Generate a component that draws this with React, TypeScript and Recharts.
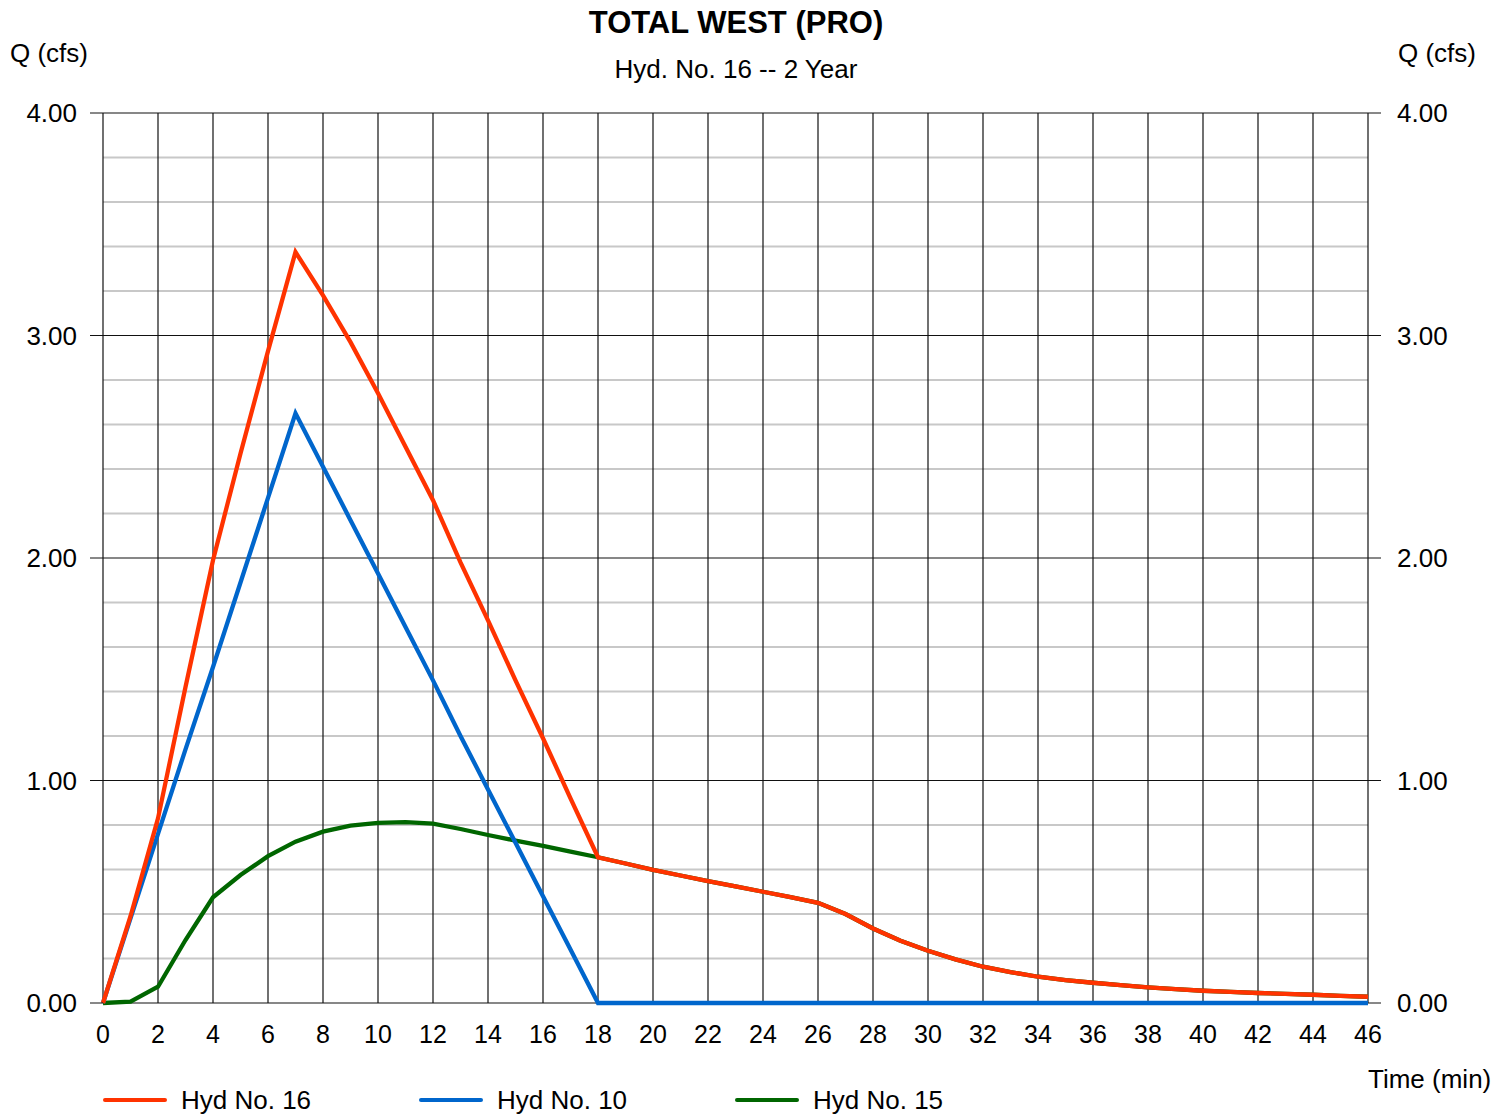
import { LineChart, Line, XAxis, YAxis, CartesianGrid } from "recharts";

// time (min), one point per minute
const minutes = [
  0, 1, 2, 3, 4, 5, 6, 7, 8, 9, 10, 11, 12, 13, 14, 15, 16, 17, 18, 19, 20, 21, 22, 23,
  24, 25, 26, 27, 28, 29, 30, 31, 32, 33, 34, 35, 36, 37, 38, 39, 40, 41, 42, 43, 44, 45, 46
];

// Q (cfs)
const hyd16 = [
  0, 0.39, 0.83, 1.42, 1.99, 2.47, 2.93, 3.375, 3.18, 2.97, 2.74, 2.5, 2.26, 1.98, 1.72, 1.45,
  1.19, 0.92, 0.655, 0.627, 0.598, 0.573, 0.548, 0.524, 0.5, 0.476, 0.45, 0.4, 0.335, 0.28,
  0.235, 0.196, 0.163, 0.139, 0.118, 0.103, 0.091, 0.08, 0.07, 0.062, 0.055, 0.05, 0.045,
  0.041, 0.037, 0.032, 0.028
];

const hyd10 = [
  0, 0.38, 0.76, 1.14, 1.51, 1.89, 2.27, 2.65, 2.41, 2.17, 1.93, 1.69, 1.45, 1.2, 0.96, 0.72,
  0.48, 0.24, 0, 0, 0, 0, 0, 0, 0, 0, 0, 0, 0, 0, 0, 0, 0, 0, 0, 0, 0, 0, 0, 0, 0, 0, 0, 0,
  0, 0, 0
];

const hyd15 = [
  0, 0.006, 0.073, 0.283, 0.475, 0.575, 0.66, 0.725, 0.77, 0.797, 0.81, 0.813, 0.806, 0.782,
  0.755, 0.73, 0.706, 0.68, 0.655, 0.627, 0.598, 0.573, 0.548, 0.524, 0.5, 0.476, 0.45, 0.4,
  0.335, 0.28, 0.235, 0.196, 0.163, 0.139, 0.118, 0.103, 0.091, 0.08, 0.07, 0.062, 0.055,
  0.05, 0.045, 0.041, 0.037, 0.032, 0.028
];

const xTicks = [0, 2, 4, 6, 8, 10, 12, 14, 16, 18, 20, 22, 24, 26, 28, 30, 32, 34, 36, 38, 40, 42, 44, 46];
const yTicks = [0, 1, 2, 3, 4];
const yMinorTicks = [0.2, 0.4, 0.6, 0.8, 1.2, 1.4, 1.6, 1.8, 2.2, 2.4, 2.6, 2.8, 3.2, 3.4, 3.6, 3.8];

const series = [
  { key: "h15", name: "Hyd No. 15", color: "#006600" },
  { key: "h10", name: "Hyd No. 10", color: "#0066cc" },
  { key: "h16", name: "Hyd No. 16", color: "#ff3300" }
];
const legendOrder = ["h16", "h10", "h15"];

const data = minutes.map((t, i) => ({
  t,
  h16: hyd16[i],
  h10: hyd10[i],
  h15: hyd15[i]
}));

const FONT = "'Liberation Sans', Arial, sans-serif";

const txt = (style: React.CSSProperties): React.CSSProperties => ({
  position: "absolute",
  fontFamily: FONT,
  color: "#000",
  whiteSpace: "nowrap",
  lineHeight: 1,
  ...style
});

export default function App() {
  const tickStyle = { fontSize: 25, fill: "#000", fontFamily: FONT };

  // grey minor grid lines, placed through the left axis scale
  const minorLines = ({ yAxis, offset }: any) =>
    yMinorTicks.map(v =>
      yAxis && typeof yAxis.scale === "function"
        ? yAxis.scale(v)
        : offset.top + offset.height * (1 - v / 4)
    );

  return (
    <div style={{ position: "absolute", left: 0, top: 0, width: 1512, height: 1116, background: "#fff" }}>
      <LineChart
        width={1512}
        height={1116}
        data={data}
        margin={{ top: 113, right: 0, bottom: 73, left: 0 }}
      >
        <XAxis
          dataKey="t"
          type="number"
          domain={[0, 46]}
          ticks={xTicks}
          interval={0}
          height={40}
          tickLine={false}
          tickSize={0}
          tickMargin={22}
          axisLine={false}
          tick={tickStyle}
        />
        <YAxis
          yAxisId={0}
          domain={[0, 4]}
          ticks={yTicks}
          width={103}
          tickSize={13}
          tickMargin={13}
          axisLine={false}
          tickLine={{ stroke: "#111" }}
          tickFormatter={(v: number) => v.toFixed(2)}
          tick={{ ...tickStyle, fontSize: 26 }}
        />
        <YAxis
          yAxisId="right"
          orientation="right"
          domain={[0, 4]}
          allowDataOverflow
          ticks={yTicks}
          width={144}
          tickSize={13}
          tickMargin={16}
          axisLine={false}
          tickLine={{ stroke: "#111" }}
          tickFormatter={(v: number) => v.toFixed(2)}
          tick={{ ...tickStyle, fontSize: 26 }}
        />

        {/* minor grey lines first, then the black grid */}
        <CartesianGrid
          yAxisId={0}
          vertical={false}
          stroke="#c8c8c8"
          strokeWidth={2}
          horizontalCoordinatesGenerator={minorLines}
        />
        <CartesianGrid yAxisId={0} stroke="#111" strokeWidth={1.2} />

        {series.map(s => (
          <Line
            key={s.key}
            dataKey={s.key}
            name={s.name}
            yAxisId={0}
            type="linear"
            stroke={s.color}
            strokeWidth={4.3}
            dot={false}
            activeDot={false}
            isAnimationActive={false}
          />
        ))}
        {/* invisible copy so the right-hand axis gets drawn */}
        <Line
          dataKey="h16"
          yAxisId="right"
          stroke="none"
          dot={false}
          activeDot={false}
          isAnimationActive={false}
        />
      </LineChart>

      <div style={txt({ left: 0, width: 1472, top: 7, textAlign: "center", fontSize: 31, fontWeight: "bold" })}>
        TOTAL WEST (PRO)
      </div>
      <div style={txt({ left: 0, width: 1472, top: 56, textAlign: "center", fontSize: 26 })}>
        Hyd. No. 16 -- 2 Year
      </div>
      <div style={txt({ left: 10, top: 40, fontSize: 26 })}>Q (cfs)</div>
      <div style={txt({ left: 1398, top: 40, fontSize: 26 })}>Q (cfs)</div>
      <div style={txt({ left: 1368, top: 1066, fontSize: 26 })}>Time (min)</div>

      {legendOrder.map((k, i) => {
        const s = series.find(x => x.key === k)!;
        return (
          <div key={k} style={{ position: "absolute", left: 103 + i * 316, top: 1087, display: "flex", alignItems: "center" }}>
            <div style={{ width: 64, height: 4, background: s.color, borderRadius: 2 }} />
            <span style={txt({ position: "static", fontSize: 26, marginLeft: 14 })}>{s.name}</span>
          </div>
        );
      })}
    </div>
  );
}
